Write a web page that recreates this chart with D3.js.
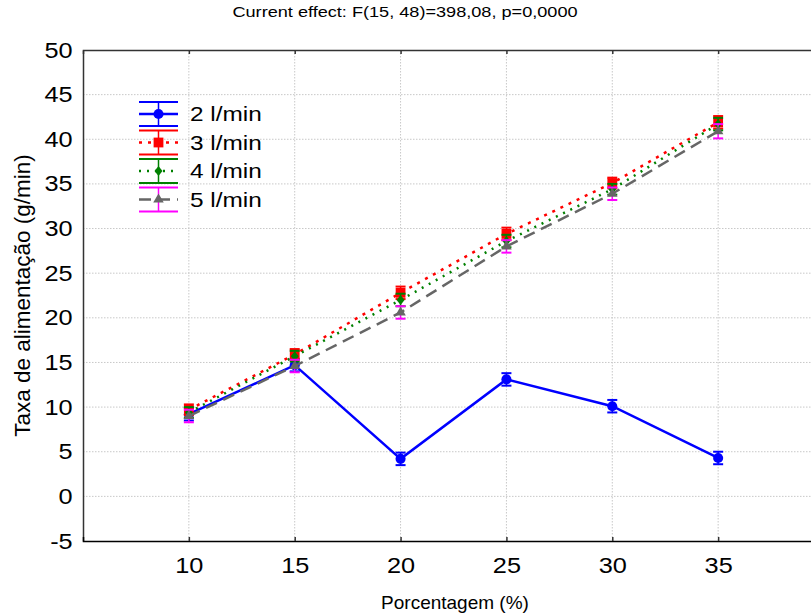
<!DOCTYPE html>
<html>
<head>
<meta charset="utf-8">
<script src="https://cdn.jsdelivr.net/npm/d3@7"></script>
<style>
  html, body { margin: 0; padding: 0; background: #fff; }
  svg { display: block; font-family: "Liberation Sans", Arial, sans-serif; }
</style>
</head>
<body>
<svg id="chart" width="811" height="616"></svg>
<script>
// Feed rate by percentage, one series per air flow
const percentages = [10, 15, 20, 25, 30, 35];
const flow2 = [9.2, 14.7, 4.2, 13.1, 10.1, 4.3];
const flow3 = [9.7, 15.9, 22.8, 29.4, 35.1, 41.9];
const flow4 = [9.4, 15.7, 22.0, 28.6, 34.4, 41.7];
const flow5 = [9.0, 14.6, 20.6, 28.0, 33.9, 40.9];
const errHalf2 = [0.7, 0.7, 0.7, 0.7, 0.7, 0.7];
const errHalf3 = [0.6, 0.6, 0.7, 0.7, 0.6, 0.7];
const errHalf4 = [0.6, 0.6, 0.7, 0.7, 0.6, 0.7];
const errHalf5 = [0.7, 0.7, 0.7, 0.7, 0.7, 0.8];
const seriesNames = ["2 l/min", "3 l/min", "4 l/min", "5 l/min"];
const yTicks = [-5, 0, 5, 10, 15, 20, 25, 30, 35, 40, 45, 50];
const xTicks = [10, 15, 20, 25, 30, 35];
const chartTitle = "Current effect: F(15, 48)=398,08, p=0,0000";
const xTitle = "Porcentagem (%)";
const yTitle = "Taxa de alimentação (g/min)";

// diamond a little wider than d3's built-in one
const wideDiamond = {
  draw(ctx, size) {
    const h = Math.sqrt(size) * 0.62, w = h * 0.8;
    ctx.moveTo(0, -h); ctx.lineTo(w, 0); ctx.lineTo(0, h); ctx.lineTo(-w, 0); ctx.closePath();
  }
};

const series = [
  { name: seriesNames[0], values: flow2, err: errHalf2, line: "#0000ff", bar: "#0000ff", marker: [d3.symbolCircle, 80], dash: null, width: 2.5 },
  { name: seriesNames[1], values: flow3, err: errHalf3, line: "#ff0000", bar: "#ff0000", marker: [d3.symbolSquare, 96], dash: "3,6", width: 2.5 },
  { name: seriesNames[2], values: flow4, err: errHalf4, line: "#008000", bar: "#008000", marker: [wideDiamond, 65], dash: "2,6", width: 2.5 },
  { name: seriesNames[3], values: flow5, err: errHalf5, line: "#666666", bar: "#ff00ff", marker: [d3.symbolTriangle, 48], dash: "12,7", width: 2.5 }
];

const svg = d3.select("#chart");
const plotLeft = 83, plotRight = 824, plotTop = 50, plotBottom = 541;
const textFont = "'Liberation Sans', Arial, sans-serif";

const x = d3.scaleLinear().domain([5, 40]).range([plotLeft, plotRight]);
const y = d3.scaleLinear().domain([-5, 50]).range([plotBottom, plotTop]);

// dotted grid
const grid = svg.append("g");
grid.selectAll("line.h").data(yTicks.filter(v => v > -5 && v < 50)).join("line")
  .attr("x1", plotLeft).attr("x2", 811)
  .attr("y1", d => y(d)).attr("y2", d => y(d))
  .attr("stroke", "#c8c8c8").attr("stroke-width", 1).attr("stroke-dasharray", "1.5,1.5");
grid.selectAll("line.v").data(xTicks).join("line")
  .attr("x1", d => x(d)).attr("x2", d => x(d))
  .attr("y1", plotTop).attr("y2", plotBottom)
  .attr("stroke", "#c8c8c8").attr("stroke-width", 1).attr("stroke-dasharray", "1.5,1.5");

// axes
const labelStretch = 1.15;
const yAxis = d3.axisLeft(y).tickValues(yTicks).tickSize(0).tickPadding(9).tickFormat(d => String(d));
const gy = svg.append("g").attr("transform", `translate(${plotLeft},0)`).call(yAxis);
gy.select(".domain").attr("stroke", "#333").attr("stroke-width", 1.5);
gy.selectAll("text").attr("font-size", 22).attr("fill", "#000").attr("font-family", textFont)
  .attr("transform", `scale(${labelStretch},1)`);

const xAxis = d3.axisBottom(x).tickValues(xTicks).tickSize(-4).tickPadding(16).tickFormat(d => String(d));
const gx = svg.append("g").attr("transform", `translate(0,${plotBottom})`).call(xAxis);
gx.select(".domain").attr("stroke", "#000").attr("stroke-width", 1.5);
gx.selectAll(".tick line").attr("stroke", "#333").attr("stroke-width", 1.5);
gx.selectAll("text").attr("font-size", 22).attr("fill", "#000").attr("font-family", textFont)
  .attr("transform", `scale(${labelStretch},1)`);

const xAxisTop = d3.axisTop(x).tickValues(xTicks).tickSize(-4).tickFormat("");
const gt = svg.append("g").attr("transform", `translate(0,${plotTop})`).call(xAxisTop);
gt.select(".domain").attr("stroke", "#333").attr("stroke-width", 1.5);
gt.selectAll(".tick line").attr("stroke", "#333").attr("stroke-width", 1.5);

// titles
svg.append("text").attr("transform", "translate(405,17) scale(1.25,1)").attr("text-anchor", "middle")
  .attr("font-size", 14.5).text(chartTitle);
svg.append("text").attr("x", 455).attr("y", 609).attr("text-anchor", "middle")
  .attr("font-size", 19).text(xTitle);
svg.append("text").attr("transform", `translate(30,${(plotTop + plotBottom) / 2}) rotate(-90)`)
  .attr("text-anchor", "middle").attr("font-size", 22.5).text(yTitle);

const markerPath = m => d3.symbol(m[0], m[1])();

const line = d3.line().x((d, i) => x(percentages[i])).y(d => y(d));
const capW = 5;

series.forEach(s => {
  const g = svg.append("g");
  g.append("path").datum(s.values).attr("d", line)
    .attr("fill", "none").attr("stroke", s.line).attr("stroke-width", s.width)
    .attr("stroke-dasharray", s.dash);
  const pts = s.values.map((v, i) => ({ x: percentages[i], v, e: s.err[i] }));
  const eb = g.selectAll("g.eb").data(pts).join("g");
  eb.append("line").attr("x1", d => x(d.x)).attr("x2", d => x(d.x))
    .attr("y1", d => y(d.v + d.e)).attr("y2", d => y(d.v - d.e))
    .attr("stroke", s.bar).attr("stroke-width", 1.5);
  eb.append("line").attr("x1", d => x(d.x) - capW).attr("x2", d => x(d.x) + capW)
    .attr("y1", d => y(d.v + d.e)).attr("y2", d => y(d.v + d.e))
    .attr("stroke", s.bar).attr("stroke-width", 2);
  eb.append("line").attr("x1", d => x(d.x) - capW).attr("x2", d => x(d.x) + capW)
    .attr("y1", d => y(d.v - d.e)).attr("y2", d => y(d.v - d.e))
    .attr("stroke", s.bar).attr("stroke-width", 2);
  g.selectAll("path.m").data(pts).join("path").attr("class", "m")
    .attr("d", markerPath(s.marker))
    .attr("transform", d => `translate(${x(d.x)},${y(d.v)})`)
    .attr("fill", s.line);
});

// legend
const legend = svg.append("g");
const rowY = [114, 142.5, 171, 199.5];
series.forEach((s, i) => {
  const cy = rowY[i];
  const g = legend.append("g");
  g.append("line").attr("x1", 139).attr("x2", 178).attr("y1", cy - 12).attr("y2", cy - 12)
    .attr("stroke", s.bar).attr("stroke-width", 2);
  g.append("line").attr("x1", 139).attr("x2", 178).attr("y1", cy + 12).attr("y2", cy + 12)
    .attr("stroke", s.bar).attr("stroke-width", 2);
  g.append("line").attr("x1", 158.5).attr("x2", 158.5).attr("y1", cy - 12).attr("y2", cy + 12)
    .attr("stroke", s.bar).attr("stroke-width", 1.5);
  g.append("line").attr("x1", 139).attr("x2", 178).attr("y1", cy).attr("y2", cy)
    .attr("stroke", s.line).attr("stroke-width", s.width).attr("stroke-dasharray", s.dash);
  g.append("path").attr("d", markerPath(s.marker))
    .attr("transform", `translate(158.5,${cy})`).attr("fill", s.line);
  g.append("text").attr("transform", `translate(190,${cy}) scale(1.22,1)`).attr("dy", "0.36em")
    .attr("font-size", 20).text(s.name);
});
</script>
</body>
</html>
